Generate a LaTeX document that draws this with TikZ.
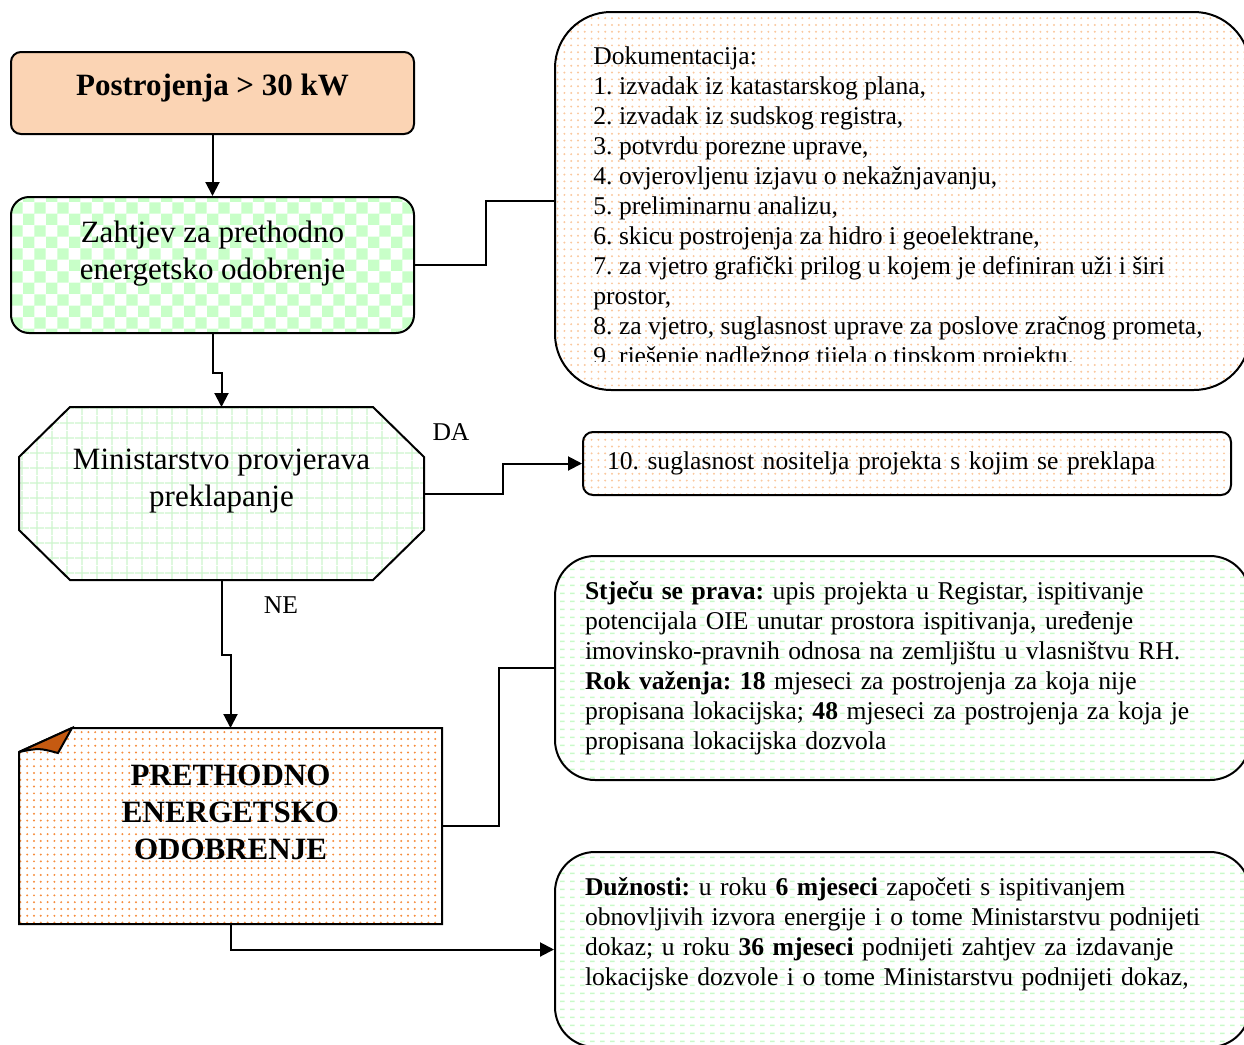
\documentclass[tikz,border=0pt]{standalone}
\usepackage{fontspec}
\setmainfont{Liberation Serif}
\usetikzlibrary{arrows.meta,patterns}
\pgfdeclarelayer{background}
\pgfsetlayers{background,main}

\definecolor{peach}{RGB}{251,212,180}
\definecolor{checkgreen}{RGB}{200,255,200}
\definecolor{gridgreen}{RGB}{205,245,205}
\definecolor{dotorange}{RGB}{250,200,158}
\definecolor{dotred}{RGB}{245,140,60}
\definecolor{foldbrown}{RGB}{197,90,17}
\definecolor{dashgreen}{RGB}{200,250,200}

\pgfdeclarepatternformonly{smalldots}{\pgfqpoint{-0.6pt}{-0.6pt}}{\pgfqpoint{0.6pt}{0.6pt}}{\pgfqpoint{3.4pt}{3.4pt}}{\pgfpathcircle{\pgfpointorigin}{0.55pt}\pgfusepath{fill}}
\pgfdeclarepatternformonly{gridlines}{\pgfpointorigin}{\pgfqpoint{7.5pt}{7.5pt}}{\pgfqpoint{7.5pt}{7.5pt}}{\pgfsetlinewidth{0.7pt}\pgfpathmoveto{\pgfqpoint{0pt}{3.75pt}}\pgfpathlineto{\pgfqpoint{7.5pt}{3.75pt}}\pgfpathmoveto{\pgfqpoint{3.75pt}{0pt}}\pgfpathlineto{\pgfqpoint{3.75pt}{7.5pt}}\pgfusepath{stroke}}
\pgfdeclarepatternformonly{dashrows}{\pgfpointorigin}{\pgfqpoint{5pt}{4pt}}{\pgfqpoint{5pt}{4pt}}{\pgfsetlinewidth{0.8pt}\pgfpathmoveto{\pgfqpoint{0pt}{2pt}}\pgfpathlineto{\pgfqpoint{2.6pt}{2pt}}\pgfusepath{stroke}}

\newcommand\flowfont{\fontsize{15.5}{18.5}\selectfont}
\newcommand\listfont{\fontsize{12.8}{15}\selectfont\frenchspacing}
\newcommand\lowpad[1]{\rule[-#1]{0pt}{#1}}

\tikzset{
  outline/.style={draw, line width=1pt},
  flowbox/.style={outline, minimum width=201.5pt, align=center, inner sep=0pt, font=\flowfont},
  sidebox/.style={outline, align=left, inner ysep=0pt, font=\listfont},
  listtext/.style={align=left, inner sep=0pt, font=\listfont},
  lbl/.style={font=\listfont},
  link/.style={line width=1pt},
  arr/.style={link, -{Triangle[length=7pt,width=7pt]}}
}

\begin{document}
\begin{tikzpicture}[x=0.5pt,y=-0.5pt]
        \useasboundingbox (0,0) rectangle (1244,1045);
        \clip (0,0) rectangle (1244,1045);

        \node[flowbox, fill=peach, rounded corners=5pt, minimum height=41pt, font=\flowfont\bfseries] (post) at (212.5,93) {Postrojenja > 30 kW\lowpad{8pt}};
        \node[flowbox, pattern=checkerboard, pattern color=checkgreen, rounded corners=9pt, minimum height=68pt] (zahtjev) at (212.5,265) {Zahtjev za prethodno\\energetsko odobrenje\lowpad{14.5pt}};
        \node[flowbox, draw=none, outer sep=0pt, minimum width=202.5pt, minimum height=86.5pt] (mp) at (221.5,493.5) {Ministarstvo provjerava\\preklapanje\lowpad{16pt}};
        \node[flowbox, draw=none, outer sep=0pt, minimum width=211.5pt, minimum height=98pt, font=\flowfont\bfseries] (pe) at (230.5,826) {PRETHODNO\\ENERGETSKO\\ODOBRENJE\lowpad{14pt}};

        \node[sidebox, pattern=smalldots, pattern color=dotorange, rounded corners=28pt, minimum width=347.5pt, minimum height=189pt] (dok) at (902.5,201) {};
        \begin{scope}
        \clip (555,12) rectangle (1244,361);
        \node[listtext, anchor=north west] (doktxt) at (593,46) {Dokumentacija:\\
        1. izvadak iz katastarskog plana,\\
        2. izvadak iz sudskog registra,\\
        3. potvrdu porezne uprave,\\
        4. ovjerovljenu izjavu o nekažnjavanju,\\
        5. preliminarnu analizu,\\
        6. skicu postrojenja za hidro i geoelektrane,\\
        7. za vjetro grafički prilog u kojem je definiran uži i širi\\
        prostor,\\
        8. za vjetro, suglasnost uprave za poslove zračnog prometa,\\
        9. rješenje nadležnog tijela o tipskom projektu.};
        \end{scope}
        \node[sidebox, pattern=smalldots, pattern color=dotorange, rounded corners=5pt, minimum width=324pt, minimum height=31.5pt, text width=300pt, inner xsep=12pt] (sugl) at (907,463.5) {10. suglasnost nositelja projekta s kojim se preklapa};
        \node[sidebox, pattern=dashrows, pattern color=dashgreen, rounded corners=20pt, minimum width=347.5pt, minimum height=112pt, text width=317.5pt, inner xsep=15pt] (prava) at (902.5,668) {\textbf{Stječu se prava:} upis projekta u Registar, ispitivanje\\
        potencijala OIE unutar prostora ispitivanja, uređenje\\
        imovinsko-pravnih odnosa na zemljištu u vlasništvu RH.\\
        \textbf{Rok važenja: 18} mjeseci za postrojenja za koja nije\\
        propisana lokacijska; \textbf{48} mjeseci za postrojenja za koja je\\
        propisana lokacijska dozvola};
        \node[sidebox, pattern=dashrows, pattern color=dashgreen, rounded corners=20pt, minimum width=347.5pt, minimum height=97.5pt, text width=317.5pt, inner xsep=15pt] (duz) at (902.5,949.5) {\textbf{Dužnosti:} u roku \textbf{6 mjeseci} započeti s ispitivanjem\\
        obnovljivih izvora energije i o tome Ministarstvu podnijeti\\
        dokaz; u roku \textbf{36 mjeseci} podnijeti zahtjev za izdavanje\\
        lokacijske dozvole i o tome Ministarstvu podnijeti dokaz,\lowpad{18.5pt}};

        % outlines behind the text
        \begin{pgfonlayer}{background}
        \draw[outline, pattern=gridlines, pattern color=gridgreen]
        ([xshift=25.5pt]mp.north west) -- ([xshift=-25.5pt]mp.north east)
        -- ([yshift=-25pt]mp.north east) -- ([yshift=25pt]mp.south east)
        -- ([xshift=-25.5pt]mp.south east) -- ([xshift=25.5pt]mp.south west)
        -- ([yshift=25pt]mp.south west) -- ([yshift=-25pt]mp.north west) -- cycle;
        \draw[outline, pattern=smalldots, pattern color=dotred]
        ([yshift=-12pt]pe.north west) -- ([xshift=26.5pt]pe.north west)
        -- (pe.north east) -- (pe.south east) -- (pe.south west) -- cycle;
        \end{pgfonlayer}
        \draw[outline, fill=foldbrown]
        ([yshift=-12pt]pe.north west) -- ([xshift=26.5pt]pe.north west)
        .. controls ([xshift=23pt,yshift=-6pt]pe.north west) .. ([xshift=19.5pt,yshift=-12.5pt]pe.north west)
        .. controls ([xshift=10pt,yshift=-10pt]pe.north west) .. ([yshift=-12pt]pe.north west);

        \draw[arr] (post) -- (zahtjev);
        \draw[link] (zahtjev.east) -- ++(71,0) |- (dok.west);
        \draw[arr] (zahtjev.south) -- ++(0,39) -| (mp.north);
        \draw[arr] (mp.east) -- ++(79,0) |- (sugl.west);
        \draw[arr] (mp.south) -- ++(0,75) -| (pe.north);
        \draw[link] (pe.east) -- ++(57,0) |- (prava.west);
        \draw[arr] (pe.south) |- (duz.west);

        \node[lbl] (da) at (451,432) {DA};
        \node[lbl] (ne) at (281,605) {NE};
    \end{tikzpicture}
\end{document}
